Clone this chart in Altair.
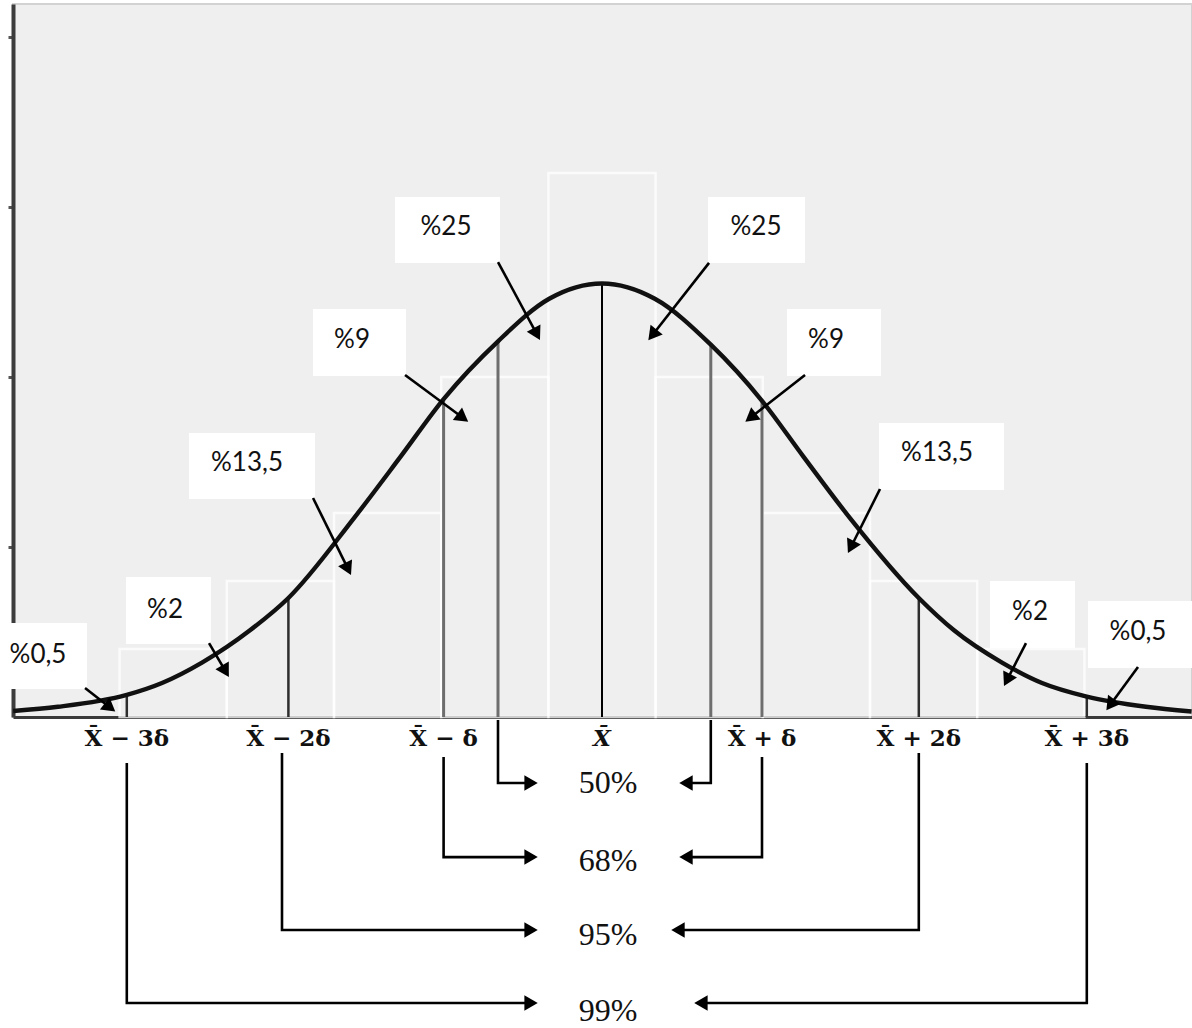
import math
import altair as alt
import pandas as pd

# ---------------------------------------------------------------------------
# Data (x in units of δ around the mean X̄, y in frequency units)
# ---------------------------------------------------------------------------

# faint frequency histogram behind the curve
bin_center = [-2.68, -2.01, -1.34, -0.67, 0.0, 0.67, 1.34, 2.01, 2.68]
bin_height = [0.4, 0.8, 1.2, 2.0, 3.2, 2.0, 1.2, 0.8, 0.4]
BIN_W = 0.67

# bell curve
curve_x = [-3.68, -3.4, -2.97, -2.75, -2.5, -2.2, -1.96, -1.55, -1.26, -0.99, -0.65, -0.33,
           0.0, 0.33, 0.68, 1.0, 1.26, 1.55, 1.98, 2.2, 2.5, 2.75, 3.03, 3.4, 3.685]
curve_y = [0.035, 0.06, 0.13, 0.20, 0.32, 0.51, 0.70, 1.17, 1.53, 1.87, 2.21, 2.46,
           2.55, 2.46, 2.19, 1.86, 1.53, 1.17, 0.70, 0.51, 0.32, 0.20, 0.12, 0.06, 0.032]

# vertical cuts under the curve
cut_x = [-2.97, -1.96, -0.99, -0.65, 0.0, 0.68, 1.0, 1.98, 3.03]
cut_y = [0.13, 0.70, 1.87, 2.21, 2.55, 2.19, 1.86, 0.70, 0.12]
cut_kind = ["tail", "tail", "inner", "inner", "mean", "inner", "inner", "tail", "tail"]

# share of the area in each strip
area_text = ["%0,5", "%2", "%13,5", "%9", "%25", "%25", "%9", "%13,5", "%2", "%0,5"]
box_x1 = [-3.77, -2.975, -2.581, -1.806, -1.294, 0.6625, 1.156, 1.731, 2.425, 3.0375]
box_x2 = [-3.219, -2.444, -1.794, -1.225, -0.6375, 1.269, 1.744, 2.5125, 2.956, 3.6875]
box_y1 = [0.165, 0.429, 1.282, 2.006, 2.671, 2.671, 2.006, 1.335, 0.406, 0.288]
box_y2 = [0.553, 0.824, 1.671, 2.40, 3.059, 3.059, 2.40, 1.729, 0.80, 0.682]
text_x = [-3.525, -2.731, -2.219, -1.5625, -0.975, 0.9625, 1.40, 2.094, 2.675, 3.35]
text_y = [0.365, 0.629, 1.494, 2.218, 2.882, 2.882, 2.218, 1.553, 0.618, 0.50]
arrow_x0 = [-3.231, -2.456, -1.806, -1.231, -0.65, 0.669, 1.269, 1.7375, 2.65, 3.35]
arrow_y0 = [0.171, 0.435, 1.288, 2.012, 2.676, 2.671, 2.012, 1.341, 0.435, 0.294]
arrow_x1 = [-3.031, -2.325, -1.5625, -0.825, -0.381, 0.281, 0.885, 1.531, 2.506, 3.144]
arrow_y1 = [0.024, 0.224, 0.824, 1.729, 2.206, 2.206, 1.729, 0.953, 0.171, 0.029]

# axis labels under the baseline
sigma_x = [-2.97, -1.96, -0.99, 0.0, 1.0, 1.98, 3.03]
sigma_label = ["X\u0304 \u2212 3\u03b4", "X\u0304 \u2212 2\u03b4", "X\u0304 \u2212 \u03b4",
               "X\u0304", "X\u0304 + \u03b4", "X\u0304 + 2\u03b4", "X\u0304 + 3\u03b4"]
sigma_italic = [False, False, False, True, False, False, False]
SIGMA_Y = -0.171

# coverage brackets
pct_label = ["50%", "68%", "95%", "99%"]
pct_level = [-0.388, -0.824, -1.253, -1.682]
pct_text_y = [-0.388, -0.847, -1.282, -1.729]
PCT_X = 0.0375
left_foot = [-0.65, -0.99, -2.0, -2.97]
right_foot = [0.68, 1.0, 1.98, 3.03]
foot_top = [-0.018, -0.235, -0.212, -0.271]
left_tip = [-0.3875, -0.3875, -0.3875, -0.3875]
right_tip = [0.469, 0.469, 0.419, 0.5625]

# ---------------------------------------------------------------------------
# Scales and helpers
# ---------------------------------------------------------------------------
WIDTH, HEIGHT = 1179, 713
XDOM = [-3.68125, 3.6875]
YDOM = [0.0, 4.194]
PX_U = WIDTH / (XDOM[1] - XDOM[0])
PX_V = HEIGHT / (YDOM[1] - YDOM[0])

XS = alt.Scale(domain=XDOM, nice=False, zero=False)
YS = alt.Scale(domain=YDOM, nice=False, zero=False)
XA = alt.Axis(labels=False, ticks=False, grid=False, title=None,
              domainColor="#3a3a3a", domainWidth=3)
YA = alt.Axis(values=[1, 2, 3, 4], labels=False, ticks=True, tickSize=5, tickWidth=3,
              tickColor="#555555", grid=False, title=None,
              domainColor="#3c3c3c", domainWidth=4)


def X(f):
    return alt.X(f, type="quantitative", scale=XS, axis=XA)


def Y(f):
    return alt.Y(f, type="quantitative", scale=YS, axis=YA)


HEAD = 240                               # arrowhead symbol area
TIP = 1.155 * math.sqrt(HEAD) / 2        # px from symbol centre to its point


def arrow(x0, y0, x1, y1, key, lines, heads):
    dx = (x1 - x0) * PX_U
    dy = -(y1 - y0) * PX_V
    L = math.hypot(dx, dy)
    ux, uy = dx / L, dy / L
    cx = x1 - ux * TIP / PX_U
    cy = y1 + uy * TIP / PX_V
    ang = math.degrees(math.atan2(ux, -uy)) % 360
    lines.append({"id": key, "k": 99, "x": cx, "y": cy})
    heads.append({"x": cx, "y": cy, "angle": ang})


# ---------------------------------------------------------------------------
# Tables
# ---------------------------------------------------------------------------
bins = pd.DataFrame({
    "x1": [c - BIN_W / 2 for c in bin_center],
    "x2": [c + BIN_W / 2 for c in bin_center],
    "h": bin_height,
})
curve = pd.DataFrame({"x": curve_x, "y": curve_y})
cuts = pd.DataFrame({"x": cut_x, "top": cut_y, "kind": cut_kind, "base": 0.0})
boxes = pd.DataFrame({"x1": box_x1, "x2": box_x2, "y1": box_y1, "y2": box_y2,
                      "tx": text_x, "ty": text_y, "label": area_text})

arrow_lines, arrow_heads = [], []
for i in range(len(area_text)):
    key = f"a{i}"
    arrow_lines.append({"id": key, "k": 0, "x": arrow_x0[i], "y": arrow_y0[i]})
    arrow(arrow_x0[i], arrow_y0[i], arrow_x1[i], arrow_y1[i], key, arrow_lines, arrow_heads)

for i in range(len(pct_label)):
    for side, foot, tip in (("l", left_foot[i], left_tip[i]), ("r", right_foot[i], right_tip[i])):
        key = f"b{i}{side}"
        arrow_lines.append({"id": key, "k": 0, "x": foot, "y": foot_top[i]})
        arrow_lines.append({"id": key, "k": 1, "x": foot, "y": pct_level[i]})
        arrow(foot, pct_level[i], tip, pct_level[i], key, arrow_lines, arrow_heads)

lines_df = pd.DataFrame(arrow_lines)
heads_df = pd.DataFrame(arrow_heads)
sig = pd.DataFrame({"x": sigma_x, "y": SIGMA_Y, "label": sigma_label, "it": sigma_italic})
pct = pd.DataFrame({"x": PCT_X, "y": pct_text_y, "label": pct_label})

# ---------------------------------------------------------------------------
# Layers
# ---------------------------------------------------------------------------
hist = alt.Chart(bins).mark_rect(fill="#efefef", fillOpacity=0, stroke="white",
                                 strokeWidth=2.5, strokeOpacity=0.75).encode(
    x=X("x1"), x2="x2", y=Y("h"), y2=alt.Y2(datum=0))


def cut_layer(kind, color, width):
    return alt.Chart(cuts).transform_filter(alt.datum.kind == kind).mark_rule(
        color=color, strokeWidth=width).encode(x=X("x"), y=Y("base"), y2="top")


cuts_tail = cut_layer("tail", "#2e2e2e", 2.5)
cuts_inner = cut_layer("inner", "#6e6e6e", 3)
cuts_mean = cut_layer("mean", "#000000", 2)

bell = alt.Chart(curve).mark_line(interpolate="monotone", color="#111111",
                                  strokeWidth=4.4).encode(x=X("x"), y=Y("y"))

box = alt.Chart(boxes).mark_rect(fill="white").encode(
    x=X("x1"), x2="x2", y=Y("y1"), y2="y2")
box_text = alt.Chart(boxes).mark_text(font="Lato", fontSize=26, color="#111111",
                                      align="center", baseline="middle").encode(
    x=X("tx"), y=Y("ty"), text="label")

shafts = alt.Chart(lines_df).mark_line(color="black", strokeWidth=2.6,
                                       strokeJoin="miter", strokeCap="butt").encode(
    x=X("x"), y=Y("y"), detail="id:N", order="k:Q")
heads = alt.Chart(heads_df).mark_point(shape="triangle-up", filled=True, color="black",
                                       size=HEAD, opacity=1, strokeWidth=0).encode(
    x=X("x"), y=Y("y"), angle=alt.Angle("angle:Q", scale=None))

sig_up = alt.Chart(sig).transform_filter(~alt.datum.it).mark_text(
    font="DejaVu Serif", fontSize=23, fontWeight="bold", color="#111111",
    align="center", baseline="alphabetic").encode(x=X("x"), y=Y("y"), text="label")
sig_it = alt.Chart(sig).transform_filter(alt.datum.it).mark_text(
    font="DejaVu Serif", fontSize=23, fontWeight="bold", fontStyle="italic",
    color="#111111", align="center", baseline="alphabetic").encode(
    x=X("x"), y=Y("y"), text="label")

pct_text = alt.Chart(pct).mark_text(font="Liberation Serif", fontSize=32, color="#111111",
                                    align="center", baseline="middle").encode(
    x=X("x"), y=Y("y"), text="label")

chart = alt.layer(
    hist, cuts_tail, cuts_inner, cuts_mean, bell, box, box_text,
    shafts, heads, sig_up, sig_it, pct_text,
).properties(
    width=WIDTH, height=HEIGHT,
    padding={"left": 13, "top": 4, "right": 0, "bottom": 311},
    autosize=alt.AutoSizeParams(type="none"),
    background="white",
).configure_view(fill="#efefef", stroke="#d2d2d2", strokeWidth=2)

chart.save("out.html", embed_options={"renderer": "svg", "actions": False})
